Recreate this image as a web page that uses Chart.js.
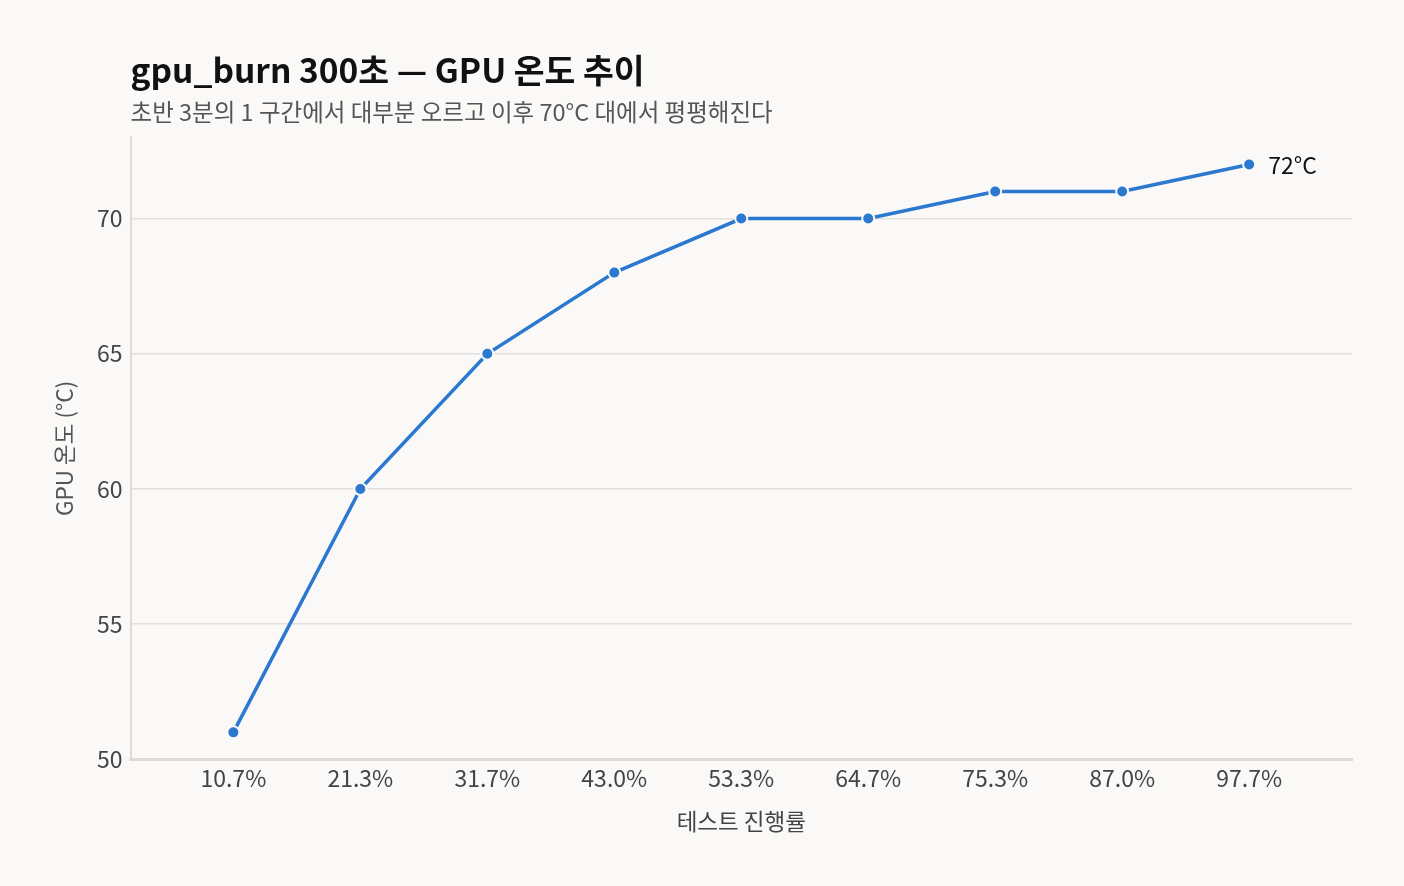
<!DOCTYPE html>
<html>
<head>
<meta charset="utf-8">
<script src="https://cdn.jsdelivr.net/npm/chart.js@4.4.1/dist/chart.umd.min.js"></script>
<style>
  html, body { margin: 0; padding: 0; background: #faf9f7; }
  #wrap { width: 1404px; height: 886px; }
</style>
</head>
<body>
<div id="wrap"><canvas id="tempChart" width="1404" height="886"></canvas></div>
<script>
// 테스트 진행률 (x 라벨) 과 GPU 온도
const progressLabels = ["10.7%", "21.3%", "31.7%", "43.0%", "53.3%", "64.7%", "75.3%", "87.0%", "97.7%"];
const gpuTemps = [51, 60, 65, 68, 70, 70, 71, 71, 72];
const yTicks = [50, 55, 60, 65, 70];

const FONT = "'Noto Sans CJK KR', 'Noto Sans', sans-serif";
const BG = "#faf9f7";
const BLUE = "#2b78d0";

// 마지막 점 옆에 값 표시
const endLabel = {
  id: "endLabel",
  afterDatasetsDraw(chart) {
    const meta = chart.getDatasetMeta(0);
    const last = meta.data[meta.data.length - 1];
    const ctx = chart.ctx;
    ctx.save();
    ctx.font = "23px " + FONT;
    ctx.fillStyle = "#111";
    ctx.textBaseline = "middle";
    ctx.fillText(gpuTemps[gpuTemps.length - 1] + "°C", last.x + 19, last.y + 1);
    ctx.restore();
  }
};

const ctx = document.getElementById("tempChart").getContext("2d");

new Chart(ctx, {
  type: "line",
  data: {
    datasets: [{
      label: "GPU 온도",
      data: gpuTemps.map((t, i) => ({ x: i, y: t })),
      borderColor: BLUE,
      backgroundColor: BLUE,
      borderWidth: 3.5,
      pointRadius: 6,
      pointBorderWidth: 2,
      pointBorderColor: BG,
      pointBackgroundColor: BLUE,
      tension: 0
    }]
  },
  options: {
    responsive: false,
    animation: false,
    devicePixelRatio: 1,
    layout: { padding: { left: 47, right: 52, top: 50, bottom: 47 } },
    plugins: {
      legend: { display: false },
      tooltip: { enabled: false },
      title: {
        display: true,
        text: "gpu_burn 300초 — GPU 온도 추이",
        align: "start",
        fullSize: false,
        color: "#111",
        font: { family: FONT, size: 33.5, weight: "bold" },
        padding: { top: 0, bottom: 8 }
      },
      subtitle: {
        display: true,
        text: "초반 3분의 1 구간에서 대부분 오르고 이후 70°C 대에서 평평해진다",
        align: "start",
        fullSize: false,
        color: "#555",
        font: { family: FONT, size: 23.5 },
        padding: { top: 0, bottom: 11 }
      }
    },
    scales: {
      x: {
        type: "linear",
        min: -0.81,
        max: 8.81,
        afterBuildTicks: axis => {
          axis.ticks = progressLabels.map((_, i) => ({ value: i }));
        },
        ticks: {
          callback: v => progressLabels[v],
          color: "#444",
          font: { family: FONT, size: 23 },
          padding: 5
        },
        grid: { display: false, drawTicks: false },
        border: { color: "#dddbd8", width: 3 },
        title: {
          display: true,
          text: "테스트 진행률",
          color: "#444",
          font: { family: FONT, size: 22.5 },
          padding: { top: 11 }
        }
      },
      y: {
        min: 50,
        max: 73,
        afterBuildTicks: axis => {
          axis.ticks = yTicks.map(v => ({ value: v }));
        },
        ticks: {
          color: "#444",
          font: { family: FONT, size: 23 },
          padding: 8
        },
        grid: { color: "#e2e0dd", lineWidth: 1.5, drawTicks: false },
        border: { color: "#dddbd8", width: 2 },
        title: {
          display: true,
          text: "GPU 온도 (°C)",
          color: "#555",
          font: { family: FONT, size: 22.5 },
          padding: { bottom: 11 }
        }
      }
    }
  },
  plugins: [endLabel]
});
</script>
</body>
</html>
